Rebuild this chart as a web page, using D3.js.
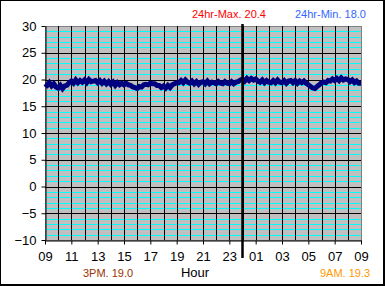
<!DOCTYPE html>
<html>
<head>
<meta charset="utf-8">
<script src="https://cdn.jsdelivr.net/npm/d3@7"></script>
<style>
  body { margin: 0; background: #fff; }
  svg { display: block; font-family: "Liberation Sans", Arial, sans-serif; }
</style>
</head>
<body>
<div id="chart"></div>
<script>
// temperature, one reading every 10 minutes from 09:00 to 09:00 next day
var temps = [
  19.2, 18.9, 19.4, 18.8, 19.2, 18.6,
  18.4, 18.9, 18.3, 18.8, 18.9, 19.4,
  19.7, 19.3, 19.9, 19.4, 19.8, 19.5,
  19.9, 19.4, 20.0, 19.6, 19.7, 19.8,
  19.4, 19.8, 19.3, 19.7, 19.2, 19.6,
  19.1, 19.5, 18.9, 19.4, 19.0, 19.3,
  19.0, 19.3, 19.0, 18.9, 18.6, 18.5,
  18.3, 18.7, 18.6, 19.0, 19.1, 19.0,
  19.3, 19.2, 19.2, 18.9, 18.9, 18.5,
  18.8, 18.4, 18.9, 18.5, 19.0, 19.2,
  19.4, 19.4, 19.8, 19.4, 19.9, 19.5,
  19.3, 19.7, 19.2, 19.6, 19.1, 19.5,
  19.6, 19.2, 19.7, 19.2, 19.5, 19.4,
  19.2, 19.6, 19.3, 19.2, 19.6, 19.3,
  19.2, 19.6, 19.2, 19.5, 19.6, 19.9,
  20.1, 19.7, 20.2, 19.8, 20.2, 19.9,
  20.1, 19.7, 19.5, 19.9, 19.4, 19.8,
  19.5, 19.4, 19.8, 19.4, 19.9, 19.5,
  19.4, 19.8, 19.3, 19.7, 19.8, 19.4,
  19.8, 19.3, 19.7, 19.4, 19.7, 19.3,
  19.0, 18.7, 18.4, 18.3, 18.7, 19.0,
  19.4, 19.5, 19.4, 19.8, 19.7, 20.1,
  19.8, 20.2, 19.8, 20.3, 19.9, 20.1,
  20.0, 19.6, 19.9, 19.4, 19.7, 19.3,
  19.3
];
var hourLabels = ["09","11","13","15","17","19","21","23","01","03","05","07","09"];
var yTicks = [-10, -5, 0, 5, 10, 15, 20, 25, 30];
var midnightHour = 15;

var maxText = "24hr-Max. 20.4";
var minText = "24hr-Min. 18.0";
var pmText = "3PM. 19.0";
var amText = "9AM. 19.3";

var W = 385, H = 286;
var svg = d3.select("#chart").append("svg")
  .attr("width", W)
  .attr("height", H);

// outer frame
svg.append("rect").attr("x", 0.5).attr("y", 0.5).attr("width", W - 2).attr("height", H - 2)
  .attr("fill", "#fff").attr("stroke", "#000").attr("stroke-width", 1);
svg.append("line").attr("x1", 384).attr("x2", 384).attr("y1", 0).attr("y2", H).attr("stroke", "#000").attr("stroke-width", 2);
svg.append("line").attr("x1", 0).attr("x2", W).attr("y1", 285).attr("y2", 285).attr("stroke", "#000").attr("stroke-width", 2);

var x = d3.scaleLinear().domain([0, 24]).range([45, 361]);
var y = d3.scaleLinear().domain([-10, 30]).range([240, 26]);

// plot background
svg.append("rect")
  .attr("x", x(0)).attr("y", y(30))
  .attr("width", x(24) - x(0)).attr("height", y(-10) - y(30))
  .attr("fill", "#c0c0c0").attr("stroke", "#808080").attr("shape-rendering", "crispEdges");

// minor grid (each degree)
var minor = d3.range(-9, 30).filter(function(v) { return v % 5 !== 0; });
svg.append("g").selectAll("line").data(minor).enter().append("line")
  .attr("x1", x(0)).attr("x2", x(24))
  .attr("y1", function(d) { return Math.round(y(d)) + 0.5; })
  .attr("y2", function(d) { return Math.round(y(d)) + 0.5; })
  .attr("stroke", "#00ffff").attr("stroke-width", 1);

// hourly vertical grid
svg.append("g").selectAll("line").data(d3.range(1, 24)).enter().append("line")
  .attr("x1", function(d) { return Math.round(x(d)) + 0.5; })
  .attr("x2", function(d) { return Math.round(x(d)) + 0.5; })
  .attr("y1", y(30)).attr("y2", y(-10))
  .attr("stroke", "#000").attr("stroke-width", 1);

// major horizontal grid
svg.append("g").selectAll("line").data(yTicks.slice(1, -1)).enter().append("line")
  .attr("x1", x(0)).attr("x2", x(24))
  .attr("y1", function(d) { return Math.round(y(d)) + 0.5; })
  .attr("y2", function(d) { return Math.round(y(d)) + 0.5; })
  .attr("stroke", "#000").attr("stroke-width", 1);

// y axis
var yAxis = d3.axisLeft(y).tickValues(yTicks).tickSize(4).tickSizeOuter(0).tickPadding(5);
var gy = svg.append("g").attr("transform", "translate(45.5,0)").call(yAxis);
gy.select(".domain").attr("stroke", "#000");
gy.selectAll("text").attr("font-size", 13).attr("fill", "#000")
  .attr("font-family", "'Liberation Sans', Arial, sans-serif");

// x axis
var xAxis = d3.axisBottom(x).tickValues(d3.range(0, 25, 2)).tickSize(4).tickSizeOuter(0)
  .tickPadding(7).tickFormat(function(d, i) { return hourLabels[i]; });
var gx = svg.append("g").attr("transform", "translate(0,240.5)").call(xAxis);
gx.selectAll("text").attr("font-size", 13).attr("fill", "#000")
  .attr("font-family", "'Liberation Sans', Arial, sans-serif");

// temperature trace
var line = d3.line()
  .x(function(d, i) { return x(i / 6); })
  .y(function(d) { return y(d); });
svg.append("path").datum(temps)
  .attr("d", line)
  .attr("fill", "none")
  .attr("stroke", "#000080")
  .attr("stroke-width", 5)
  .attr("stroke-linejoin", "miter");

// midnight marker
svg.append("line")
  .attr("x1", x(midnightHour)).attr("x2", x(midnightHour))
  .attr("y1", 24).attr("y2", 258)
  .attr("stroke", "#000").attr("stroke-width", 2.5);

// captions
svg.append("text").attr("x", 192).attr("y", 18).attr("font-size", 11).attr("fill", "#ff0000").text(maxText);
svg.append("text").attr("x", 295).attr("y", 18).attr("font-size", 11).attr("fill", "#3366ff").text(minText);
svg.append("text").attr("x", 83).attr("y", 277).attr("font-size", 11).attr("fill", "#993300").text(pmText);
svg.append("text").attr("x", 320).attr("y", 277).attr("font-size", 11).attr("fill", "#ff9900").text(amText);
svg.append("text").attr("x", 195).attr("y", 277).attr("text-anchor", "middle").attr("font-size", 13).attr("fill", "#000").text("Hour");
</script>
</body>
</html>
